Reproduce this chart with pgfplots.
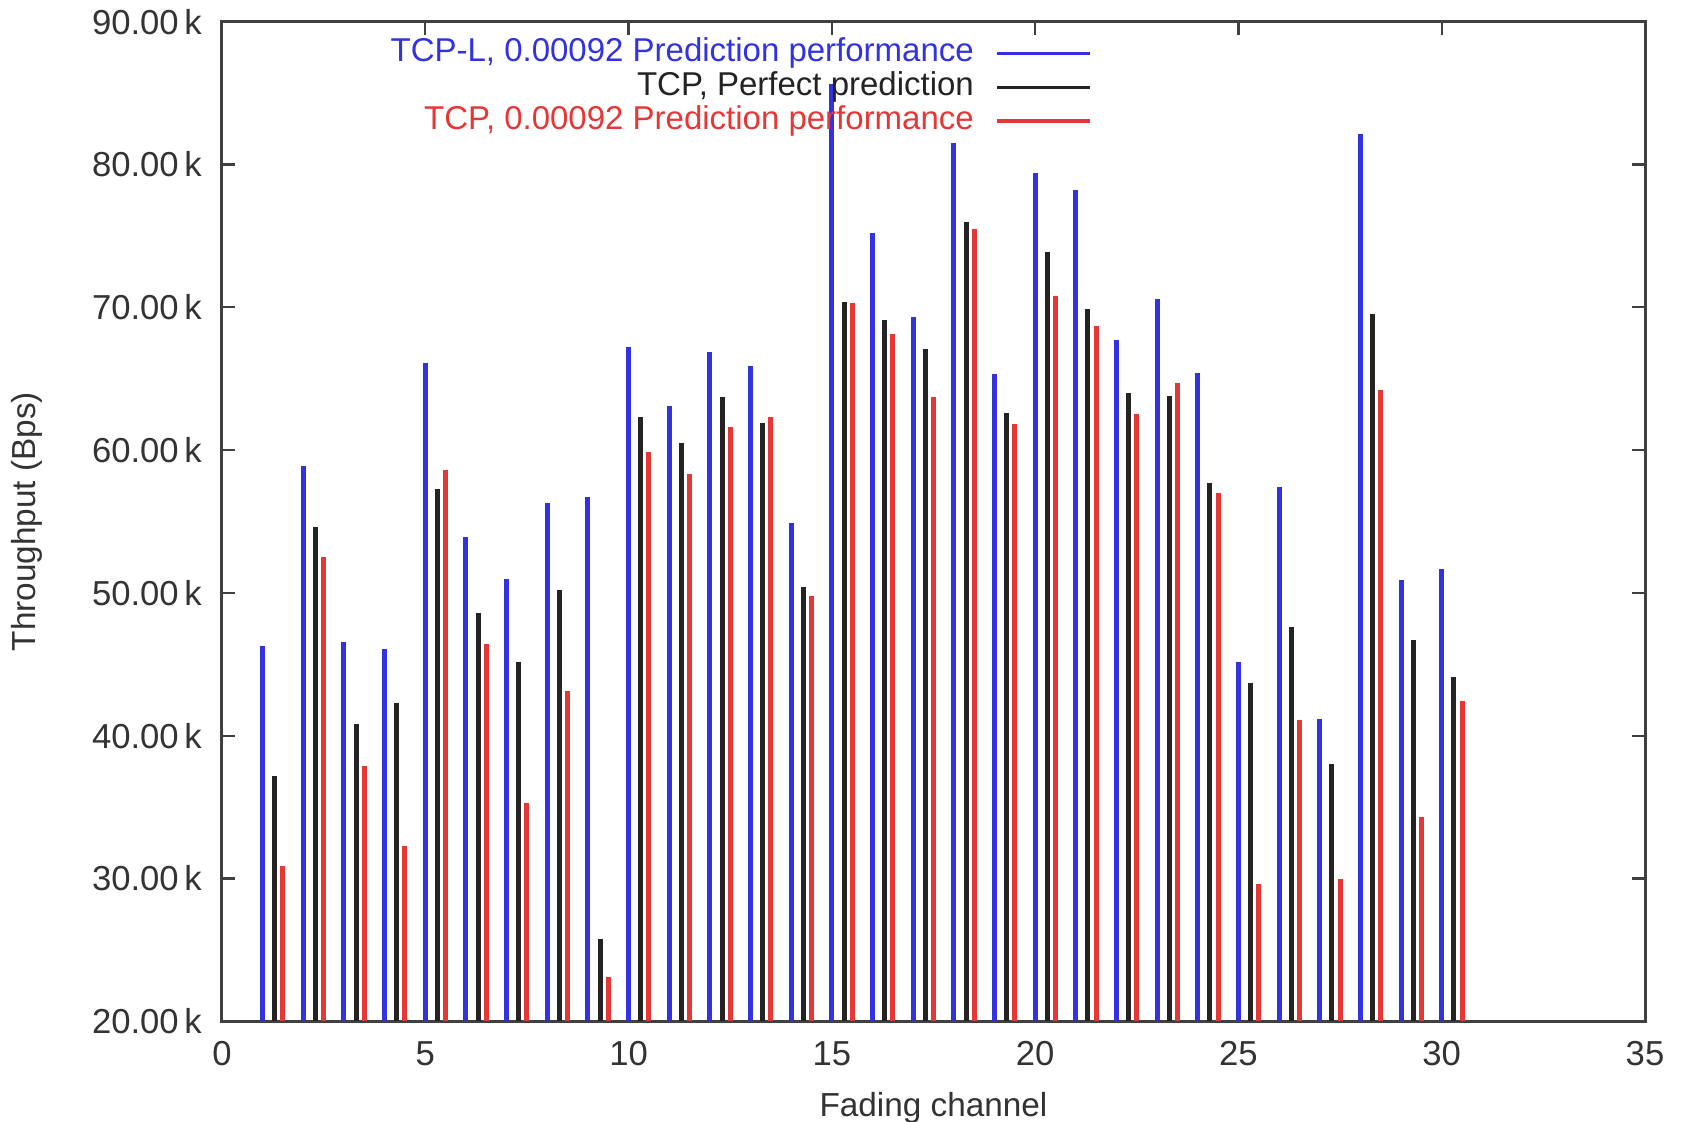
\documentclass[border=0pt]{standalone}
\usepackage{pgfplots}
\pgfplotsset{compat=1.18}
\usepackage{fontspec}
\setmainfont{Liberation Sans}
\definecolor{cblue}{RGB}{50,50,225}
\definecolor{cblack}{RGB}{35,35,35}
\definecolor{cred}{RGB}{230,55,55}
\begin{document}
\begin{tikzpicture}
\begin{axis}[
  scale only axis,
  width=427pt, height=300pt,
  xmin=0, xmax=35, ymin=20, ymax=90,
  xtick={0,5,...,35}, ytick={20,30,...,90},
  tick align=inside, major tick length=4pt,
  axis line style={line width=0.9pt, draw=black!75},
  every tick/.style={line width=0.7pt, draw=black!75},
  /pgf/number format/assume math mode=true,
  yticklabel={\pgfmathprintnumber[fixed,fixed zerofill,precision=2]{\tick}\,k},
  tick label style={font=\fontsize{10.4}{12}\selectfont, text=black!80},
  yticklabel style={xshift=-2.5pt},
  xticklabel style={yshift=-2.5pt},
  every axis y label/.style={at={(axis description cs:-0.137,0.5)}, rotate=90, anchor=center, font=\fontsize{10}{12}\selectfont, text=black!80},
  every axis x label/.style={at={(axis description cs:0.5,-0.086)}, anchor=center, font=\fontsize{10}{12}\selectfont, text=black!80},
  ylabel={Throughput (Bps)},
  xlabel={Fading channel},
  legend plot pos=right,
  legend cell align=right,
  legend image code/.code={\draw[#1,line width=1pt] (0pt,0pt) -- (28pt,0pt);},
  legend style={draw=none, fill=none, at={(0.619,0.992)}, anchor=north east,
    font=\fontsize{9.9}{12}\selectfont,
    nodes={inner sep=0.5pt, text height=7.0pt, text depth=2.1pt},
    column sep=6pt},
]
\addplot[ycomb, cblue, line width=1.5pt, mark=none] coordinates {
(1,46.3) (2,58.9) (3,46.6) (4,46.1) (5,66.1) (6,53.9) (7,51.0) (8,56.3) (9,56.7) (10,67.2)
(11,63.1) (12,66.9) (13,65.9) (14,54.9) (15,85.6) (16,75.2) (17,69.3) (18,81.5) (19,65.3) (20,79.4)
(21,78.2) (22,67.7) (23,70.6) (24,65.4) (25,45.2) (26,57.4) (27,41.2) (28,82.1) (29,50.9) (30,51.7)
};
\addlegendentry{\textcolor{cblue}{TCP-L, 0.00092 Prediction performance}}
\addplot[ycomb, cblack, line width=1.5pt, mark=none] coordinates {
(1.3,37.2) (2.3,54.6) (3.3,40.8) (4.3,42.3) (5.3,57.3) (6.3,48.6) (7.3,45.2) (8.3,50.2) (9.3,25.8) (10.3,62.3)
(11.3,60.5) (12.3,63.7) (13.3,61.9) (14.3,50.4) (15.3,70.4) (16.3,69.1) (17.3,67.1) (18.3,76.0) (19.3,62.6) (20.3,73.9)
(21.3,69.9) (22.3,64.0) (23.3,63.8) (24.3,57.7) (25.3,43.7) (26.3,47.6) (27.3,38.0) (28.3,69.5) (29.3,46.7) (30.3,44.1)
};
\addlegendentry{\textcolor{cblack}{TCP, Perfect prediction}}
\addplot[ycomb, cred, line width=1.5pt, mark=none] coordinates {
(1.5,30.9) (2.5,52.5) (3.5,37.9) (4.5,32.3) (5.5,58.6) (6.5,46.4) (7.5,35.3) (8.5,43.1) (9.5,23.1) (10.5,59.9)
(11.5,58.3) (12.5,61.6) (13.5,62.3) (14.5,49.8) (15.5,70.3) (16.5,68.1) (17.5,63.7) (18.5,75.5) (19.5,61.8) (20.5,70.8)
(21.5,68.7) (22.5,62.5) (23.5,64.7) (24.5,57.0) (25.5,29.6) (26.5,41.1) (27.5,30.0) (28.5,64.2) (29.5,34.3) (30.5,42.4)
};
\addlegendentry{\textcolor{cred}{TCP, 0.00092 Prediction performance}}
\end{axis}
\pgfresetboundingbox
\path ([shift={(-66.6pt,-30pt)}]current axis.south west) rectangle ([shift={(11.7pt,6.5pt)}]current axis.north east);
\end{tikzpicture}
\end{document}
